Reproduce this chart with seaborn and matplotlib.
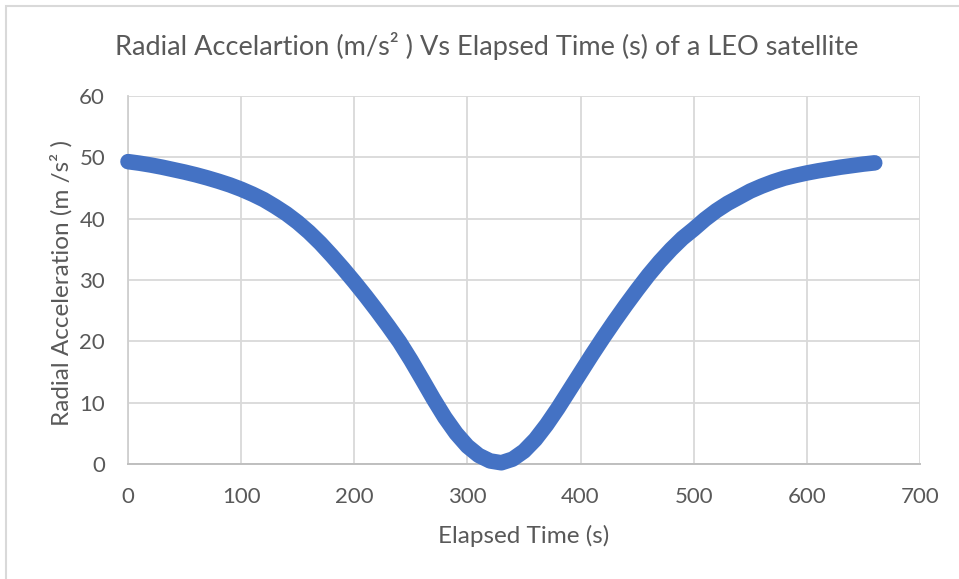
import matplotlib
matplotlib.use("Agg")
import matplotlib.pyplot as plt
from matplotlib.patches import Rectangle
import seaborn as sns
import pandas as pd

# Elapsed time (s) and radial acceleration (m/s^2) of the LEO satellite pass
elapsed_time = list(range(0, 661, 10))
radial_accel = [
    49.3, 49.05, 48.75, 48.4, 48.0, 47.6, 47.15, 46.65, 46.1, 45.5,
    44.8, 44.0, 43.1, 42.0, 40.8, 39.4, 37.8, 36.0, 34.0, 31.9,
    29.7, 27.4, 25.0, 22.5, 19.9, 16.95, 13.8, 10.6, 7.6, 5.0,
    2.9, 1.4, 0.5, 0.2, 0.8, 2.1, 4.0, 6.4, 9.1, 12.0,
    14.9, 17.8, 20.6, 23.3, 25.9, 28.4, 30.8, 33.0, 35.0, 36.8,
    38.3, 39.9, 41.3, 42.5, 43.5, 44.5, 45.3, 46.0, 46.6, 47.05,
    47.45, 47.8, 48.1, 48.4, 48.65, 48.9, 49.1,
]
x_ticks = [0, 100, 200, 300, 400, 500, 600, 700]
y_ticks = [0, 10, 20, 30, 40, 50, 60]

df = pd.DataFrame({"t": elapsed_time, "a": radial_accel})

sns.set_theme(style="whitegrid")
plt.rcParams["font.family"] = ["Lato", "DejaVu Sans"]

TEXT = "#595959"
GRID = "#d9d9d9"
BLUE = "#4472C4"

fig = plt.figure(figsize=(9.59, 5.79), dpi=100)
ax = fig.add_axes([128 / 959, 1 - 464 / 579, (920 - 128) / 959, (464 - 96) / 579])

sns.lineplot(data=df, x="t", y="a", ax=ax, color=BLUE, linewidth=11.2,
             sort=False, solid_capstyle="round", solid_joinstyle="round",
             zorder=3, clip_on=False)

ax.set_xlim(0, 700)
ax.set_ylim(0, 60)
ax.set_xticks(x_ticks)
ax.set_yticks(y_ticks)
ax.set_xticklabels([str(v) for v in x_ticks])
ax.set_yticklabels([str(v) for v in y_ticks])
ax.tick_params(axis="both", length=0, labelsize=16, labelcolor=TEXT)
ax.tick_params(axis="x", pad=16.5)
ax.tick_params(axis="y", pad=16.5)
ax.grid(True, color=GRID, linewidth=1.3)
for side in ["top", "right"]:
    ax.spines[side].set_visible(False)
ax.spines["left"].set_color("#cfcfcf")
ax.spines["left"].set_linewidth(1.3)
ax.spines["bottom"].set_color("#bfbfbf")
ax.spines["bottom"].set_linewidth(1.4)
ax.set_facecolor("white")

ax.set_xlabel("Elapsed Time (s)", fontsize=17.5, color=TEXT)
ax.set_ylabel("Radial Acceleration (m /s\u00b2 )", fontsize=17.5, color=TEXT)
ax.xaxis.set_label_coords(0.5, (464 - 525) / 368)
ax.yaxis.set_label_coords((73 - 128) / 792, (464 - 283) / 368)

fig.text(487 / 959, 1 - 46 / 579,
         "Radial Accelartion (m/s\u00b2 ) Vs Elapsed Time (s) of a LEO satellite",
         ha="center", va="center", fontsize=19.5, color=TEXT)

# light chart-area border
fig.patches.append(Rectangle((6 / 959, -0.1), 1.2, 1.1 - 6 / 579,
                             transform=fig.transFigure, fill=False,
                             edgecolor="#d9d9d9", linewidth=1.5))

fig.savefig("out.png", dpi=100, facecolor="white")
